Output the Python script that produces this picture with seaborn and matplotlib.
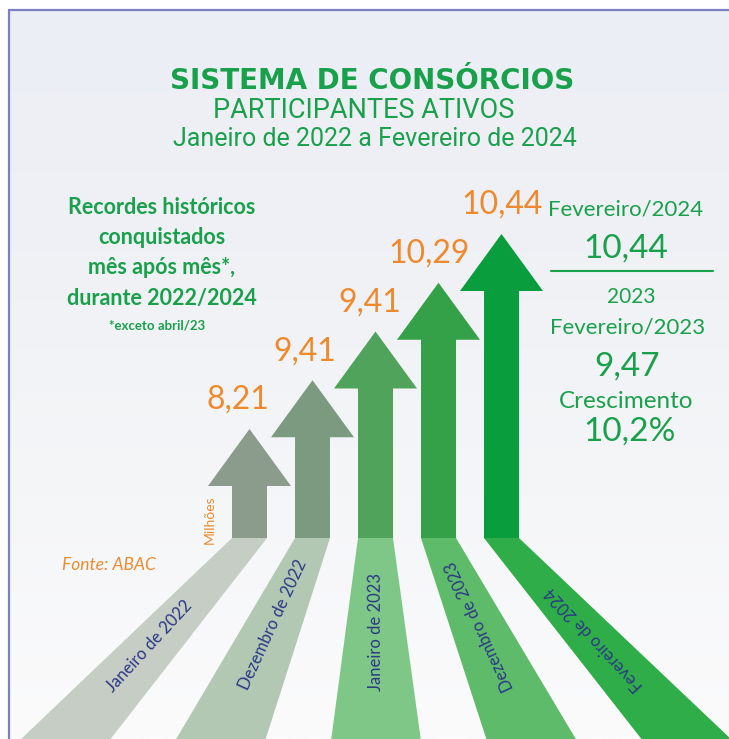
import numpy as np
import matplotlib
matplotlib.use("Agg")
import matplotlib.pyplot as plt
import seaborn as sns
from matplotlib.patches import Polygon

# data
months = ["Janeiro de 2022", "Dezembro de 2022", "Janeiro de 2023",
          "Dezembro de 2023", "Fevereiro de 2024"]
participants = [8.21, 9.41, 9.41, 10.29, 10.44]
feb_2024 = 10.44
feb_2023 = 9.47
growth = 10.2

def br(v, d=2):
    return f"{v:.{d}f}".replace(".", ",")

sns.set_theme(style="white")
plt.rcParams['font.family'] = ['Lato', 'DejaVu Sans']

GREEN = "#19a04b"
ORANGE = "#ee8a2d"
NAVY = "#2c3887"
arrow_cols = sns.blend_palette(["#8b9b8c", "#7b9a7f", "#4fa35b", "#34a047", "#0a9d3e"], len(months))
strip_cols = sns.blend_palette(["#c5cdc4", "#b2c8b3", "#7ec786", "#5fbb69", "#2fad48"], len(months))

W, H = 729, 739
fig = plt.figure(figsize=(W / 100, H / 100), dpi=100)
ax = fig.add_axes([0, 0, 1, 1])
ax.set_xlim(0, W)
ax.set_ylim(H, 0)
ax.axis("off")

# background
grad = np.linspace(0, 1, 256)[:, None]
bg = sns.blend_palette(["#eceef5", "#eff1f5", "#f5f6f8", "#fbfbfc"], as_cmap=True)
ax.imshow(grad, extent=[9, W, H, 10], cmap=bg, aspect="auto", zorder=0)
ax.plot([9, 9], [10, H], color="#7b7fc4", lw=1.6, zorder=1)
ax.plot([9, W], [10, 10], color="#7b7fc4", lw=1.6, zorder=1)

# arrows and floor strips
base_y = 538
for i, (m, v) in enumerate(zip(months, participants)):
    cx = 249.5 + 63 * i
    tip = 429 - 48.75 * i
    hb = tip + 57
    sw, hw = 17.5, 41.5
    arrow = [(cx - sw, base_y), (cx - sw, hb), (cx - hw, hb), (cx, tip),
             (cx + hw, hb), (cx + sw, hb), (cx + sw, base_y)]
    ax.add_patch(Polygon(arrow, closed=True, color=arrow_cols[i], lw=0, zorder=3))
    bx = 64 + 156 * i
    strip = [(cx - sw, base_y), (cx + sw, base_y), (bx + 45, H + 2), (bx - 45, H + 2)]
    ax.add_patch(Polygon(strip, closed=True, color=strip_cols[i], lw=0, zorder=2))
    ang = np.degrees(np.arctan2(H - base_y, cx - bx))
    t = [0.54, 0.43, 0.47, 0.44, 0.5][i]
    ax.text(cx + (bx - cx) * t, base_y + (H - base_y) * t, m, rotation=ang,
            rotation_mode="anchor", ha="center", va="center",
            fontsize=12, color=NAVY, zorder=4)
    lx = [238, 305, 370, 429, 502][i]
    ax.text(lx, tip - 29, br(v), ha="center", va="center",
            fontsize=23, color=ORANGE, zorder=4)

# titles
ax.text(372, 81, "SISTEMA DE CONSÓRCIOS", ha="center", va="center",
        fontsize=20, fontweight="bold", color=GREEN, family="DejaVu Sans")
ax.text(364, 111, "PARTICIPANTES ATIVOS", ha="center", va="center",
        fontsize=19.5, color=GREEN, family="Roboto")
ax.text(375, 139, "Janeiro de 2022 a Fevereiro de 2024", ha="center", va="center",
        fontsize=18, color=GREEN, family="Roboto")

# left note
for y, s in zip([208, 238, 267, 298],
                ["Recordes históricos", "conquistados", "mês após mês*,", "durante 2022/2024"]):
    ax.text(162, y, s, ha="center", va="center", fontsize=15.5,
            fontweight="bold", color=GREEN)
ax.text(157, 325, "*exceto abril/23", ha="center", va="center", fontsize=9.5,
        fontweight="bold", color=GREEN)

# right comparison
ax.text(626, 210, "Fevereiro/2024", ha="center", va="center", fontsize=16, color=GREEN)
ax.text(626, 249, br(feb_2024), ha="center", va="center", fontsize=24, color=GREEN)
ax.plot([551, 713], [271, 271], color=GREEN, lw=1.5)
ax.text(631, 297, "2023", ha="center", va="center", fontsize=15, color=GREEN)
ax.text(628, 327, "Fevereiro/2023", ha="center", va="center", fontsize=16, color=GREEN)
ax.text(627, 367, br(feb_2023), ha="center", va="center", fontsize=24, color=GREEN)
ax.text(626, 402, "Crescimento", ha="center", va="center", fontsize=17.5, color=GREEN)
ax.text(630, 432, br(growth, 1) + "%", ha="center", va="center", fontsize=24, color=GREEN)

ax.text(210, 520, "Milhões", rotation=90, ha="center", va="center",
        fontsize=10, color=ORANGE, zorder=4)
ax.text(109, 565, "Fonte: ABAC", ha="center", va="center", fontsize=12.5,
        style="italic", color=ORANGE)

fig.savefig("out.png", dpi=100)
